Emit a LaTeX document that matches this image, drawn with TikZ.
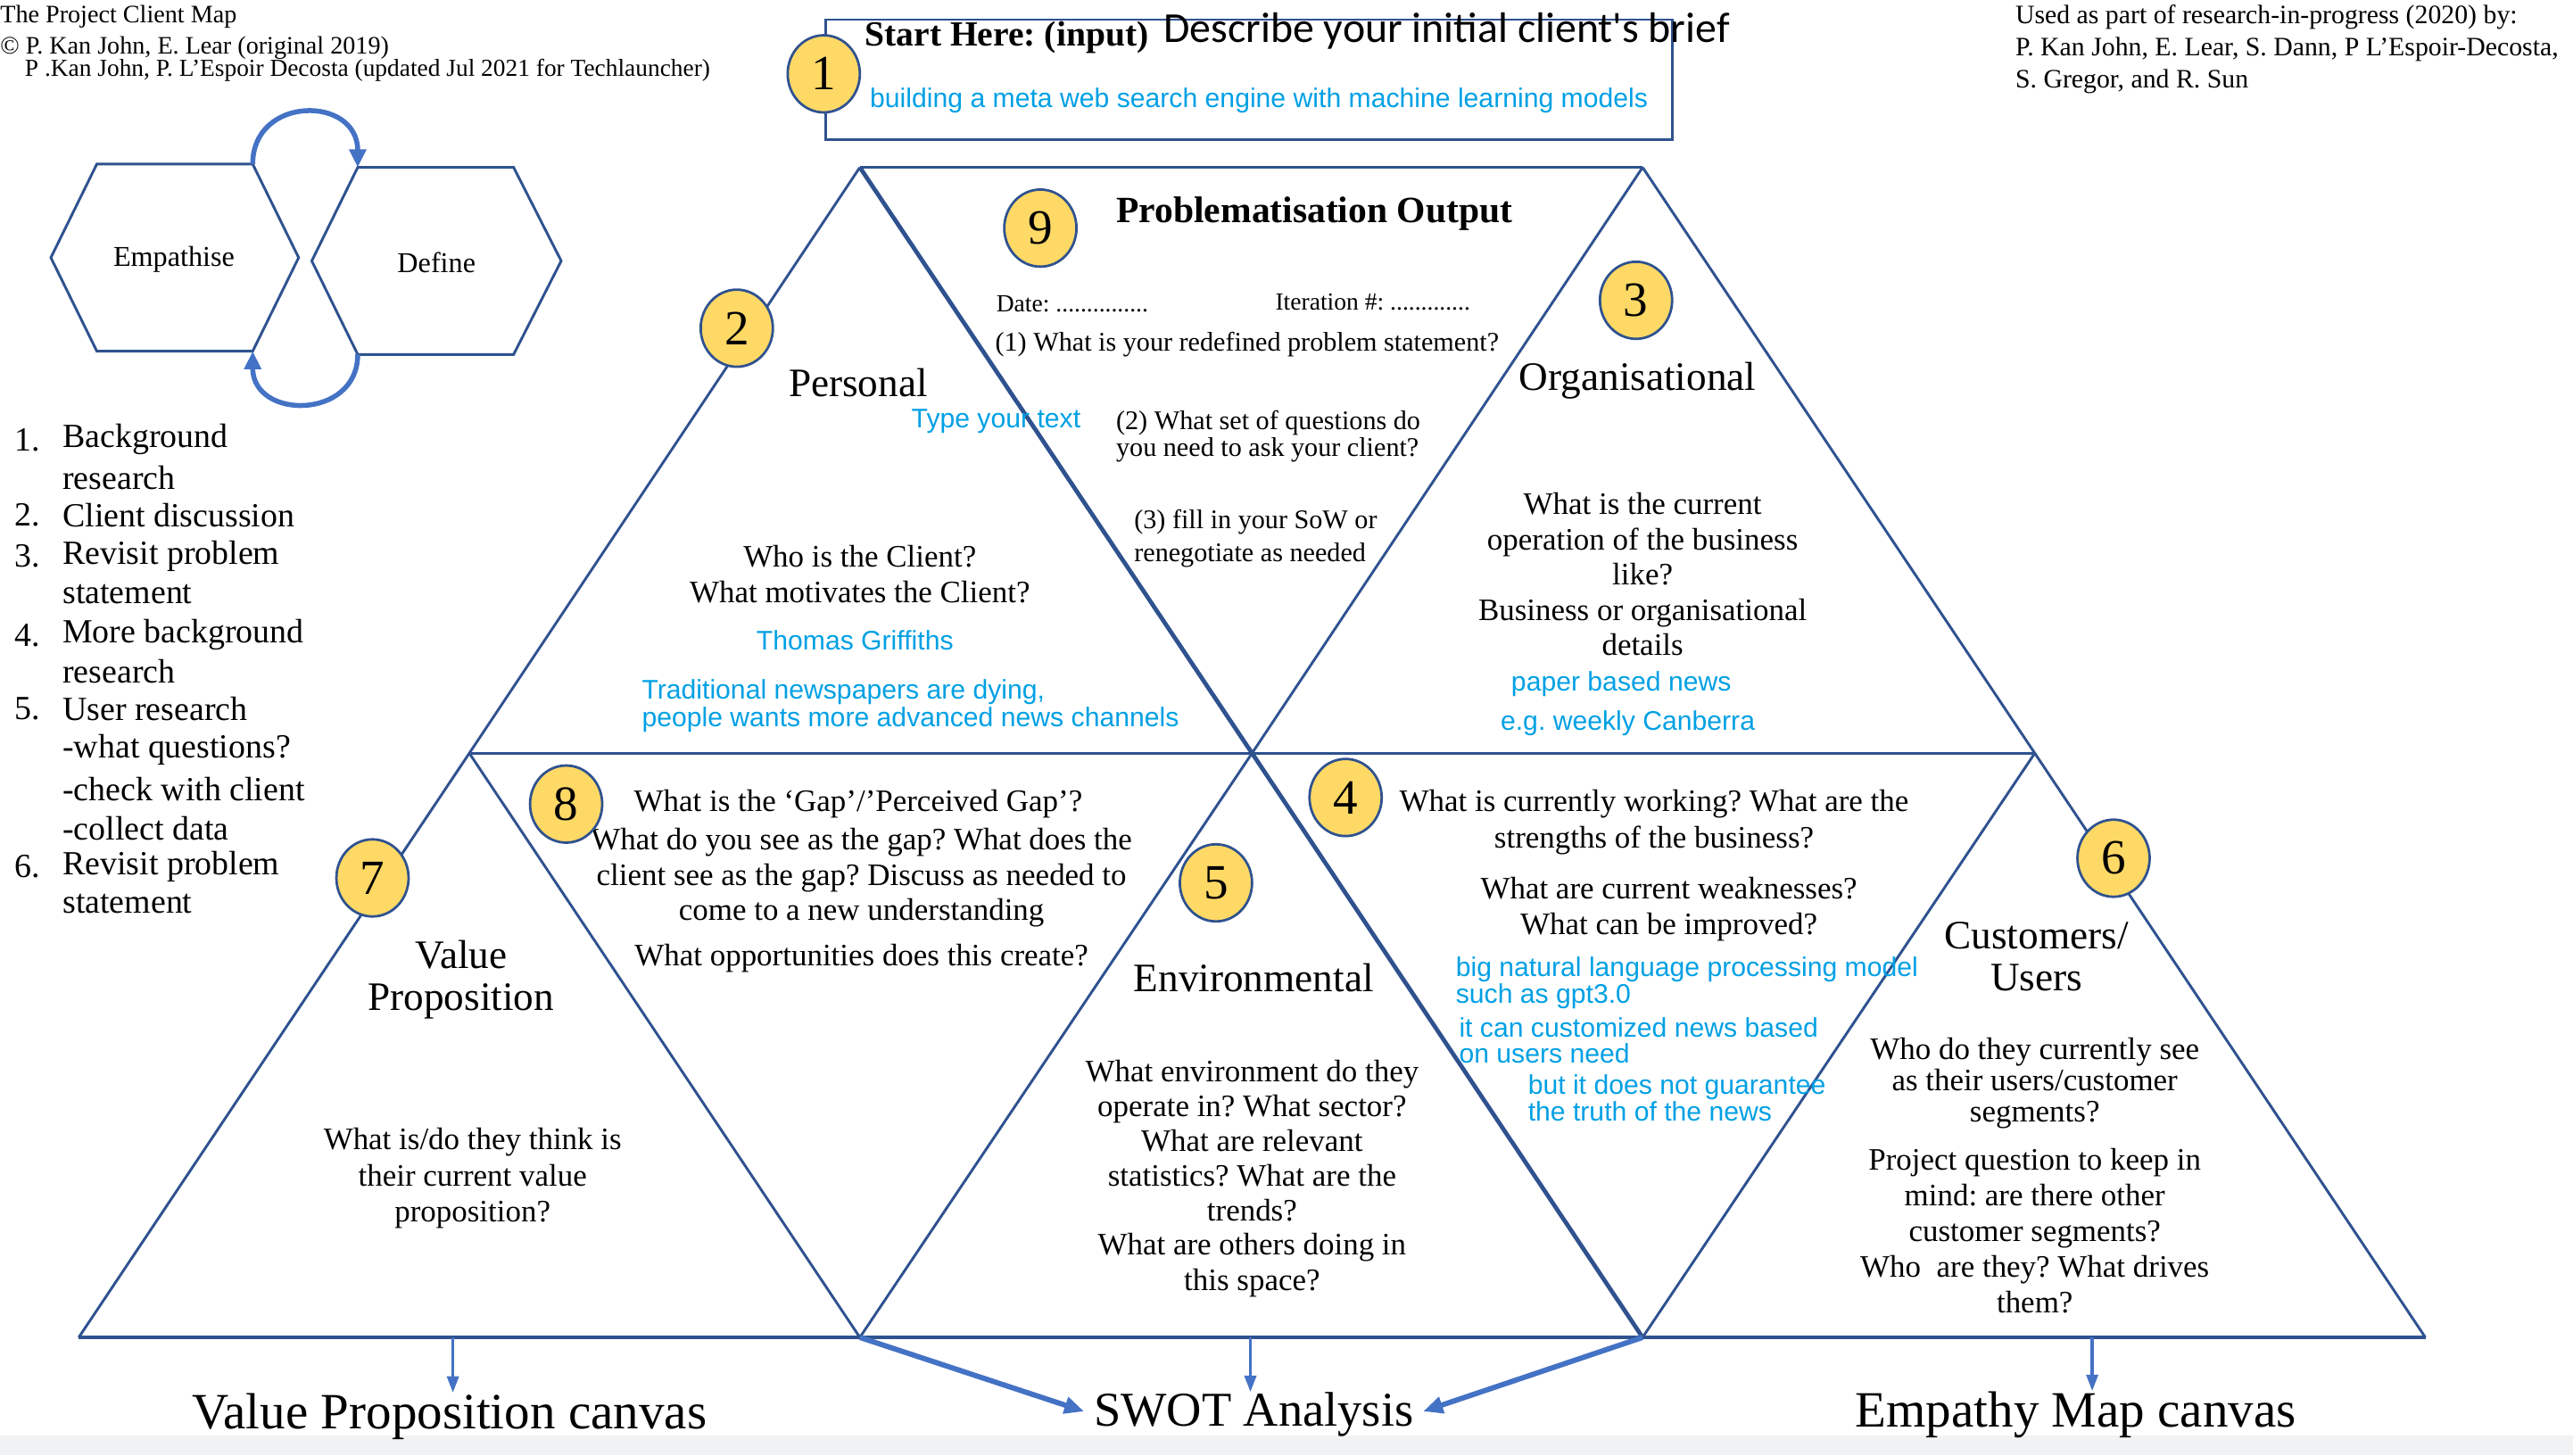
\documentclass[tikz,border=0pt]{standalone}
\usepackage{fontspec}
\setmainfont{Liberation Serif}
\setsansfont{Liberation Sans}
\newfontfamily\calib{Carlito}
\usetikzlibrary{shapes.geometric,arrows.meta}
\definecolor{lineblue}{RGB}{47,82,143}
\definecolor{arrowblue}{RGB}{68,114,196}
\definecolor{gold}{RGB}{255,217,102}
\definecolor{textblue}{RGB}{0,160,228}
\definecolor{greystrip}{RGB}{241,242,244}
\newcommand\myfs[2]{\fontsize{#1}{#2}\selectfont}
\begin{document}
\frenchspacing
\begin{tikzpicture}[x=1pt,y=-1pt,
  edge/.style={draw=lineblue,line width=1.6pt},
  numc/.style={ellipse,draw=lineblue,fill=gold,line width=1.5pt,minimum width=44pt,minimum height=47pt,inner sep=0pt,font=\myfs{30}{30}},
  txt/.style={inner sep=0pt,align=center,font=\myfs{19}{21.5}},
  head/.style={inner sep=0pt,align=center,font=\myfs{24.6}{26}},
  btxt/.style={inner sep=0pt,text=textblue,font=\sffamily\myfs{16.4}{16.5}},
  small/.style={inner sep=0pt,anchor=west,font=\myfs{15.3}{18}},
  listt/.style={inner sep=0pt,anchor=west,font=\myfs{20.6}{23.6}},
  outp/.style={inner sep=0pt,font=\myfs{16.4}{16.5}},
  big/.style={inner sep=0pt,font=\myfs{31}{32}},
  loop/.style={draw=arrowblue,line width=3pt,-{Triangle[length=11pt,width=10pt]}},
  down/.style={draw=arrowblue,line width=2pt,-{Triangle[length=10pt,width=7pt]}},
  thick/.style={draw=arrowblue,line width=3.2pt,-{Triangle[length=12pt,width=10pt]}}
]
\useasboundingbox (0,0) rectangle (1568,887);
\fill[greystrip] (0,875) rectangle (1568,887);

% ---------- header texts
\node[small] (t1) at (0,10) {The Project Client Map};
\node[small] (t2) at (0,29) {© P. Kan John, E. Lear (original 2019)};
\node[small,font=\myfs{14.9}{17}] (t3) at (15,43) {P .Kan John, P. L'Espoir Decosta (updated Jul 2021 for Techlauncher)};
\node[inner sep=0pt,anchor=west,align=left,font=\myfs{16.2}{19.5}] (tr) at (1228,30)
  {Used as part of research-in-progress (2020) by:\\P. Kan John, E. Lear, S. Dann, P L’Espoir-Decosta,\\S. Gregor, and R. Sun};

% ---------- hexagons
\coordinate (e1) at (31,157);  \coordinate (e2) at (59,100);  \coordinate (e3) at (154,100);
\coordinate (e4) at (182,157); \coordinate (e5) at (154,214); \coordinate (e6) at (59,214);
\coordinate (d1) at (190,159); \coordinate (d2) at (218,102); \coordinate (d3) at (313,102);
\coordinate (d4) at (342,159); \coordinate (d5) at (313,216); \coordinate (d6) at (218,216);
\draw[edge] (e1)--(e2)--(e3)--(e4)--(e5)--(e6)--cycle;
\draw[edge] (d1)--(d2)--(d3)--(d4)--(d5)--(d6)--cycle;
\node[inner sep=0pt,font=\myfs{17.5}{18}] (emp) at (106,158) {Empathise};
\node[inner sep=0pt,font=\myfs{17.5}{18}] (def) at (266,160) {Define};
\draw[loop] (e3) .. controls (154,58) and (218,58) .. (d2);
\draw[loop] (d6) .. controls (218,256) and (154,256) .. (e5);

% ---------- list
\foreach \n/\y in {1./268,2./314,3./339,4./387,5./432,6./528}
  \node[listt] at (9,\y) {\n};
\node[listt] (l1) at (38,268) {Background};
\node[listt] (l2) at (38,291) {research};
\node[listt] (l3) at (38,314) {Client discussion};
\node[listt] (l4) at (38,339) {Revisit problem};
\node[listt] (l5) at (38,362) {statement};
\node[listt] (l6) at (38,387) {More background};
\node[listt] (l7) at (38,409) {research};
\node[listt] (l8) at (38,432) {User research};
\node[listt] (l9) at (38,457) {-what questions?};
\node[listt] (l10) at (38,481) {-check with client};
\node[listt] (l11) at (38,505) {-collect data};
\node[listt] (l12) at (38,528) {Revisit problem};
\node[listt] (l13) at (38,551) {statement};

% ---------- top box
\node[draw=lineblue,line width=1.5pt,minimum width=516pt,minimum height=73pt,inner sep=0pt] (box) at (761,48.5) {};
\node[inner sep=0pt,anchor=west,font=\bfseries\myfs{21.5}{22}] (start) at (527,23) {Start Here: (input)};
\node[inner sep=0pt,anchor=west,font=\calib\myfs{26}{27}] (desc) at (709,19) {Describe your initial client's brief};
\node[btxt,anchor=west] (brief) at (530,61) {building a meta web search engine with machine learning models};

% ---------- triangle grid
\coordinate (T1) at (524,102); \coordinate (T2) at (1001,102);
\coordinate (M0) at (286,459); \coordinate (M1) at (763,459); \coordinate (M2) at (1240,459);
\coordinate (B0) at (48,815);  \coordinate (B1) at (524,815); \coordinate (B2) at (1001,815); \coordinate (B3) at (1478,815);
\draw[edge] (T1)--(T2);
\draw[edge] (M0)--(M2);
\draw[edge,line width=2.6pt] (B0)--(B3);
\draw[edge] (T1)--(M0)--(B0);
\draw[edge] (T2)--(M2)--(B3);
\draw[edge,line width=2.6pt] (T1)--(M1)--(B2);
\draw[edge] (T2)--(M1)--(B1);
\draw[edge] (M0)--(B1);
\draw[edge] (M2)--(B2);

% ---------- Personal
\node[head] (pers) at (523,233) {Personal};
\node[btxt] (type) at (607,257) {Type your text};
\node[txt] (who) at (524,350) {Who is the Client?\\What motivates the Client?};
\node[btxt] (tg) at (521,390) {Thomas Griffiths};
\node[btxt,anchor=west,align=left,font=\sffamily\myfs{16.4}{17}] (trad) at (391,430) {Traditional newspapers are dying,\\people wants more advanced news channels};

% ---------- Problematisation output
\node[inner sep=0pt,font=\bfseries\myfs{22.6}{23}] (po) at (801,130) {Problematisation Output};
\node[outp,anchor=west,font=\myfs{15}{16}] (date) at (607,185) {Date: ...............};
\node[outp,anchor=west,font=\myfs{15}{16}] (iter) at (777,184) {Iteration \#: .............};
\node[outp] (q1) at (760,210) {(1) What is your redefined problem statement?};
\node[outp,anchor=west,align=left] (q2) at (680,266) {(2) What set of questions do\\you need to ask your client?};
\node[outp,anchor=west,align=left,font=\myfs{16.4}{20}] (q3) at (691,328) {(3) fill in your SoW or\\renegotiate as needed};

% ---------- Organisational
\node[head] (org) at (998,232) {Organisational};
\node[txt] (orgq) at (1001,350) {What is the current\\operation of the business\\like?\\Business or organisational\\details};
\node[btxt] (pbn) at (988,417) {paper based news};
\node[btxt] (wc) at (992,441) {e.g. weekly Canberra};

% ---------- Gap
\node[txt] (gap1) at (523,490) {What is the ‘Gap’/’Perceived Gap’?};
\node[txt] (gap2) at (525,535) {What do you see as the gap? What does the\\client see as the gap? Discuss as needed to\\come to a new understanding};
\node[txt] (gap3) at (525,584) {What opportunities does this create?};

% ---------- Value proposition
\node[head] (vp) at (281,597) {Value\\Proposition};
\node[txt,font=\myfs{19}{22}] (vpq) at (288,718) {What is/do they think is\\their current value\\proposition?};

% ---------- Environmental
\node[head] (env) at (764,596) {Environmental};
\node[txt,font=\myfs{19}{21.25}] (envq) at (763,695) {What environment do they\\operate in? What sector?\\What are relevant\\statistics? What are the\\trends?};
\node[txt,font=\myfs{19}{22}] (envq2) at (763,771) {What are others doing in\\this space?};

% ---------- SWOT box
\node[txt,font=\myfs{19}{22}] (sw1) at (1008,501) {What is currently working? What are the\\strengths of the business?};
\node[txt,font=\myfs{19}{22}] (sw2) at (1017,554) {What are current weaknesses?\\What can be improved?};
\node[btxt,anchor=west,align=left,font=\sffamily\myfs{16.4}{16}] (nlp) at (887,599) {big natural language processing model\\such as gpt3.0};
\node[btxt,anchor=west,align=left,font=\sffamily\myfs{16.4}{16}] (cust) at (889,634) {it can customized news based\\on users need};
\node[btxt,anchor=west,align=left,font=\sffamily\myfs{16.4}{16}] (guar) at (931,669) {but it does not guarantee\\the truth of the news};

% ---------- Customers
\node[head] (cu) at (1241,583) {Customers/\\Users};
\node[txt,font=\myfs{19}{19}] (cuq) at (1240,660) {Who do they currently see\\as their users/customer\\segments?};
\node[txt,font=\myfs{19}{21.75}] (cuq2) at (1240,750) {Project question to keep in\\mind: are there other\\customer segments?\\Who\ \ are they? What drives\\them?};

% ---------- number circles
\node[numc] (n1) at (502,45) {1};
\node[numc] (n2) at (449,200) {2};
\node[numc] (n3) at (997,183) {3};
\node[numc] (n4) at (820,486) {4};
\node[numc] (n5) at (741,538) {5};
\node[numc] (n6) at (1288,523) {6};
\node[numc] (n7) at (227,535) {7};
\node[numc] (n8) at (345,490) {8};
\node[numc] (n9) at (634,139) {9};

% ---------- outputs
\node[big] (vpc) at (274,863) {Value Proposition canvas};
\node[big,font=\myfs{29.6}{32}] (swot) at (764,862) {SWOT Analysis};
\node[big] (emc) at (1265,862) {Empathy Map canvas};
\coordinate (a1) at (276,815);
\coordinate (a2) at (762,815);
\coordinate (a3) at (1275,815);
\draw[down] (a1) -- (vpc.north -| a1) ;
\draw[down] (a2) -- (swot.north -| a2);
\draw[down] (a3) -- (emc.north -| a3);
\draw[thick,shorten >=6pt] (B1) -- (swot.west);
\draw[thick,shorten >=6pt] (B2) -- (swot.east);
\end{tikzpicture}
\end{document}
